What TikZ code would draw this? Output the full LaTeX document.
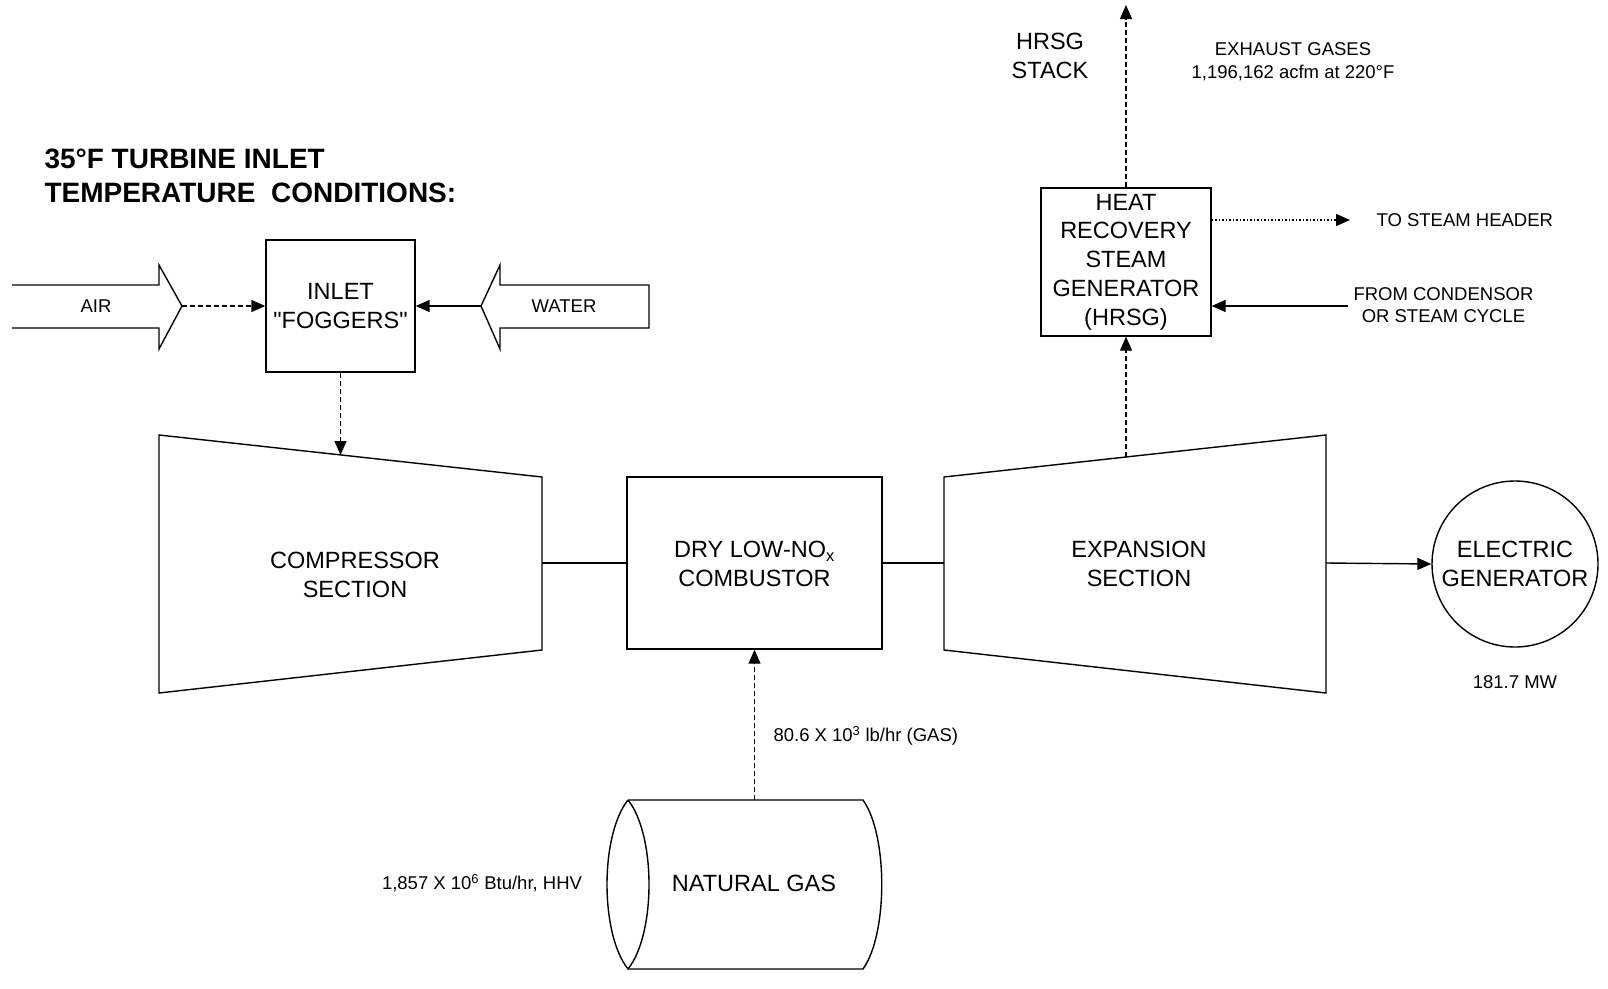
\documentclass[tikz,border=0pt]{standalone}
\usepackage{fontspec}
\setmainfont{Liberation Sans}
\usetikzlibrary{arrows.meta}
\tikzset{
  ln/.style={line width=1.4pt, line join=miter},
  tipped/.style={ln, -{Triangle[length=14pt,width=12pt]}},
  dashedarrow/.style={tipped, dash pattern=on 5pt off 3pt},
  dottedarrow/.style={tipped, dash pattern=on 1.5pt off 2pt},
  box/.style={draw, ln, inner sep=0pt, align=center, font=\bigtxt},
  bigtext/.style={align=center, font=\bigtxt},
  smalltext/.style={align=center, font=\smalltxt},
}
\newcommand{\bigtxt}{\fontsize{23.5}{28.7}\selectfont}
\newcommand{\smalltxt}{\fontsize{18.5}{22.6}\selectfont}
\newcommand{\titletxt}{\fontsize{28}{34}\selectfont\bfseries}
\begin{document}
\begin{tikzpicture}[x=1pt,y=-1pt]
\useasboundingbox (0,0) rectangle (1608,988);

% title
\node[anchor=west, align=left, font=\titletxt] (title) at (41,176) {35°F TURBINE INLET\\TEMPERATURE\ \ CONDITIONS:};

% AIR block arrow
\draw[ln] (12,285) -- (159,285) -- (159,265) -- (182,306) -- (159,349) -- (159,328) -- (12,328);
\coordinate (airtip) at (182,306);
\node[smalltext] (air) at (96,306) {AIR};

% WATER block arrow
\draw[ln] (649,285) -- (500,285) -- (500,265) -- (481,306) -- (500,349) -- (500,328) -- (649,328) -- cycle;
\coordinate (watertip) at (481,306);
\node[smalltext] (water) at (564,306) {WATER};

% Inlet foggers
\node[box, minimum width=149pt, minimum height=132pt] (fog) at (340.5,306) {INLET\\\textquotedbl FOGGERS\textquotedbl};
\draw[dashedarrow] (airtip) -- (fog.west);
\draw[tipped] (watertip) -- (fog.east);

% Compressor
\coordinate (c1) at (159,435);
\coordinate (c2) at (542,477);
\coordinate (c3) at (542,650);
\coordinate (c4) at (159,693);
\draw[ln] (c1) -- (c2) -- (c3) -- (c4) -- cycle;
\node[bigtext] (comp) at (355,575) {COMPRESSOR\\SECTION};
\coordinate (compin) at (340.5,455);
\coordinate (compout) at (542,563);
\draw[dashedarrow] (fog.south) -- (compin);

% Combustor
\node[box, minimum width=255pt, minimum height=172pt] (comb) at (754.5,563) {};
\node[bigtext] (combtxt) at (754.5,564) {DRY LOW-NO\textsubscript{x}\\COMBUSTOR};
\draw[ln] (compout) -- (comb.west);

% Expansion
\coordinate (e1) at (944,477);
\coordinate (e2) at (1326,435);
\coordinate (e3) at (1326,693);
\coordinate (e4) at (944,650);
\draw[ln] (e1) -- (e2) -- (e3) -- (e4) -- cycle;
\node[bigtext] (exp) at (1139,564) {EXPANSION\\SECTION};
\coordinate (expin) at (944,563);
\coordinate (expout) at (1326,563);
\coordinate (exptop) at (1126,457);
\draw[ln] (comb.east) -- (expin);

% Generator
\node[draw, ln, circle, minimum size=166pt, inner sep=0pt, align=center, font=\bigtxt] (gen) at (1515,564) {ELECTRIC\\GENERATOR};
\node[smalltext] (mw) at (1515,682) {181.7 MW};
\draw[tipped] (expout) -- (gen.west);

% HRSG
\node[box, minimum width=170pt, minimum height=148pt] (hrsg) at (1126,262) {HEAT\\RECOVERY\\STEAM\\GENERATOR\\(HRSG)};
\draw[dashedarrow] (exptop) -- (hrsg.south);
\coordinate (stack) at (1126,5);
\draw[dashedarrow] (hrsg.north) -- (stack);
\node[bigtext] (stacktxt) at (1050,56) {HRSG\\STACK};
\node[smalltext] (exhaust) at (1293,62) {EXHAUST GASES\\1,196,162 acfm at 220°F};

\coordinate (sh) at (1350,220);
\draw[dottedarrow] (sh -| hrsg.east) -- (sh);
\node[smalltext, anchor=west] (shtxt) at (1373,220) {TO STEAM HEADER};
\coordinate (fc) at (1348,306);
\draw[tipped] (fc) -- (fc -| hrsg.east);
\node[smalltext, anchor=west] (fctxt) at (1350,305) {FROM CONDENSOR\\OR STEAM CYCLE};

% Natural gas cylinder
\coordinate (g1) at (628,800);
\coordinate (g2) at (863,800);
\coordinate (g3) at (863,969);
\coordinate (g4) at (628,969);
\draw[ln] (g1) -- (g2) .. controls (888,835) and (888,934) .. (g3) -- (g4);
\draw[ln] (g1) .. controls (600,835) and (600,934) .. (g4) .. controls (656,934) and (656,835) .. (g1);
\node[bigtext] (ngtxt) at (754,883) {NATURAL GAS};
\coordinate (gastop) at (754.5,800);
\draw[dashedarrow] (gastop) -- (comb.south);
\node[smalltext, anchor=west] (gasflow) at (770,736) {80.6 X 10\textsuperscript{3} lb/hr (GAS)};
\node[smalltext] (hhv) at (482,883) {1,857 X 10\textsuperscript{6} Btu/hr, HHV};
\end{tikzpicture}
\end{document}
